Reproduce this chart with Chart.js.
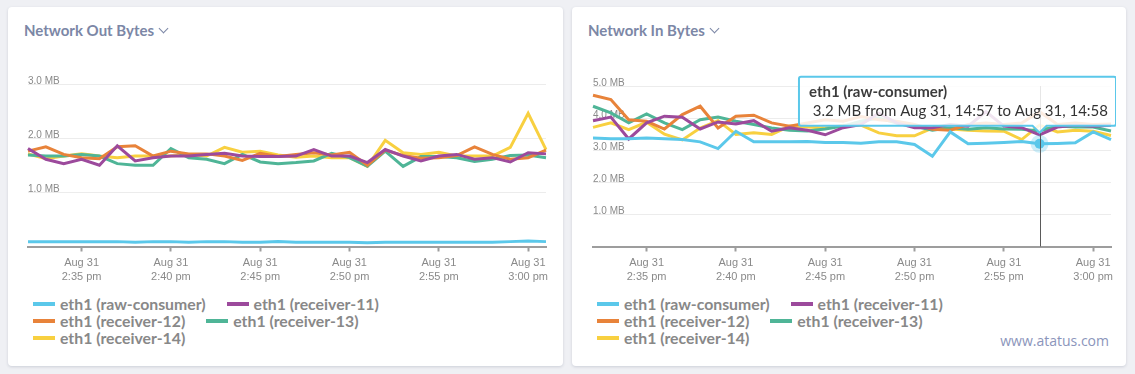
<!DOCTYPE html>
<html>
<head>
<meta charset="utf-8">
<script src="https://cdn.jsdelivr.net/npm/chart.js@4.4.1/dist/chart.umd.min.js"></script>
<style>
  html, body { margin: 0; padding: 0; }
  body { width: 1135px; height: 374px; background: #eff0f4; position: relative; overflow: hidden; font-family: Lato, sans-serif; }
  .card { position: absolute; top: 7px; height: 359px; background: #fff; border-radius: 4px; box-shadow: 0 1px 3px rgba(50, 60, 90, 0.18); }
  #cardOut { left: 8px; width: 555px; }
  #cardIn { left: 572px; width: 554px; }
  .card h3 { position: absolute; left: 16px; top: 14px; margin: 0; font: 700 15px/18px Lato, sans-serif; color: #7c87a6; white-space: nowrap; }
  .chev { display: inline-block; width: 6px; height: 6px; border-right: 1.5px solid #7c87a6; border-bottom: 1.5px solid #7c87a6; transform: rotate(45deg); margin-left: 6px; position: relative; top: -4px; }
  .plot { position: absolute; top: 49px; }
  #cardOut .plot { left: 15px; }
  #cardIn .plot { left: 16px; }
  .legend { position: absolute; left: 25px; top: 288px; width: 410px; display: flex; flex-wrap: wrap; }
  .item { display: flex; align-items: center; margin-right: 21px; height: 17px; font: 700 15.8px Lato, sans-serif; color: #888; white-space: nowrap; }
  .swatch { width: 22px; height: 4px; margin-right: 5px; }
  .brand { position: absolute; right: 17px; top: 325px; font: 400 14px/17px 'Open Sans', sans-serif; color: #8b95bb; }
</style>
</head>
<body>
<div class="card" id="cardOut">
  <h3>Network Out Bytes<span class="chev"></span></h3>
  <div class="plot"><canvas id="outChart" width="528" height="234"></canvas></div>
  <div class="legend" id="outLegend"></div>
</div>
<div class="card" id="cardIn">
  <h3>Network In Bytes<span class="chev"></span></h3>
  <div class="plot"><canvas id="inChart" width="528" height="234"></canvas></div>
  <div class="legend" id="inLegend"></div>
  <div class="brand">www.atatus.com</div>
</div>
<script>
const day = 'Aug 31';
const timeLabels = ['14:32', '14:33', '14:34', '14:35', '14:36', '14:37', '14:38', '14:39', '14:40', '14:41',
  '14:42', '14:43', '14:44', '14:45', '14:46', '14:47', '14:48', '14:49', '14:50', '14:51',
  '14:52', '14:53', '14:54', '14:55', '14:56', '14:57', '14:58', '14:59', '15:00', '15:01'];
const seriesNames = ['eth1 (raw-consumer)', 'eth1 (receiver-11)', 'eth1 (receiver-12)', 'eth1 (receiver-13)', 'eth1 (receiver-14)'];

// Network Out Bytes, MB per minute
const outRawConsumer = [0.09, 0.09, 0.09, 0.09, 0.09, 0.09, 0.08, 0.09, 0.09, 0.08, 0.09, 0.09, 0.08, 0.08, 0.09,
  0.08, 0.08, 0.08, 0.08, 0.07, 0.08, 0.08, 0.08, 0.08, 0.08, 0.08, 0.08, 0.09, 0.10, 0.09];
const outReceiver11 = [1.81, 1.61, 1.53, 1.61, 1.50, 1.86, 1.58, 1.64, 1.67, 1.67, 1.70, 1.72, 1.67, 1.66, 1.66,
  1.67, 1.79, 1.67, 1.67, 1.55, 1.79, 1.67, 1.58, 1.67, 1.70, 1.61, 1.64, 1.56, 1.73, 1.71];
const outReceiver12 = [1.76, 1.84, 1.70, 1.64, 1.62, 1.84, 1.86, 1.67, 1.76, 1.71, 1.71, 1.67, 1.59, 1.72, 1.66,
  1.70, 1.73, 1.69, 1.74, 1.50, 1.78, 1.68, 1.63, 1.64, 1.68, 1.84, 1.70, 1.61, 1.64, 1.78];
const outReceiver13 = [1.69, 1.67, 1.67, 1.70, 1.67, 1.53, 1.50, 1.50, 1.81, 1.64, 1.61, 1.53, 1.70, 1.56, 1.53,
  1.55, 1.58, 1.72, 1.64, 1.48, 1.76, 1.48, 1.66, 1.66, 1.64, 1.57, 1.61, 1.68, 1.69, 1.64];
const outReceiver14 = [1.71, 1.62, 1.67, 1.71, 1.67, 1.64, 1.67, 1.67, 1.67, 1.70, 1.67, 1.83, 1.74, 1.76, 1.69,
  1.65, 1.67, 1.64, 1.64, 1.48, 1.96, 1.73, 1.70, 1.74, 1.67, 1.67, 1.67, 1.83, 2.46, 1.79];

// Network In Bytes, MB per minute
const inRawConsumer = [3.38, 3.36, 3.36, 3.38, 3.36, 3.33, 3.26, 3.05, 3.59, 3.26, 3.26, 3.26, 3.27, 3.24, 3.24,
  3.22, 3.26, 3.26, 3.18, 2.81, 3.57, 3.20, 3.22, 3.24, 3.27, 3.20, 3.21, 3.23, 3.57, 3.33];
const inReceiver11 = [3.92, 4.03, 3.35, 3.85, 4.06, 4.03, 3.66, 3.88, 3.82, 3.92, 3.59, 3.70, 3.62, 3.48, 3.70,
  3.80, 4.15, 3.85, 3.70, 3.70, 3.80, 3.75, 4.20, 3.75, 3.70, 3.48, 3.72, 3.78, 3.75, 3.78];
const inReceiver12 = [4.71, 4.58, 3.95, 3.90, 3.66, 4.11, 4.37, 3.69, 4.06, 4.09, 3.85, 3.75, 3.85, 3.95, 3.90,
  4.05, 3.95, 3.90, 3.80, 3.65, 3.62, 3.80, 3.85, 3.80, 3.85, 4.20, 3.80, 3.85, 3.80, 3.82];
const inReceiver13 = [4.37, 4.16, 3.85, 4.13, 3.85, 3.64, 3.95, 4.03, 3.90, 3.80, 3.69, 3.62, 3.60, 3.66, 3.75,
  3.90, 4.00, 3.85, 3.75, 3.62, 3.70, 3.65, 3.70, 3.66, 3.65, 3.60, 3.75, 3.72, 3.72, 3.60];
const inReceiver14 = [3.71, 3.85, 3.64, 3.87, 3.50, 3.32, 3.69, 3.92, 3.49, 3.54, 3.49, 3.75, 3.72, 3.69, 3.78,
  3.78, 3.54, 3.45, 3.45, 3.69, 3.66, 3.62, 3.60, 3.59, 3.33, 3.78, 3.57, 3.62, 3.59, 3.46];

const hoverTime = '14:57';

const lineColors = ['#5bc8ea', '#9c4a9c', '#e8833a', '#4fb597', '#f8d040'];
const haloColors = ['rgba(91,200,234,0.3)', 'rgba(156,74,156,0.3)', 'rgba(232,131,58,0.3)', 'rgba(79,181,151,0.3)', 'rgba(248,208,64,0.3)'];
const axisGray = '#9d9d9d';
const tickFont = "'Helvetica Neue', Helvetica, 'Liberation Sans', Arial, sans-serif";

function isLabelled(i) {
    return Number(timeLabels[i].split(':')[1]) % 5 === 0;
}

function xTickLabel(i) {
    const [h, m] = timeLabels[i].split(':').map(Number);
    const h12 = h % 12 || 12;
    return [day, h12 + ':' + String(m).padStart(2, '0') + ' ' + (h >= 12 ? 'pm' : 'am')];
}

const hoverLine = {
    id: 'hoverLine',
    afterDatasetsDraw(chart) {
        const active = chart.getActiveElements();
        if (!active.length) {
            return;
        }
        const ctx = chart.ctx;
        const x = Math.round(active[0].element.x) + 0.5;
        ctx.save();
        ctx.strokeStyle = '#5a5a5a';
        ctx.lineWidth = 1;
        ctx.beginPath();
        ctx.moveTo(x, chart.chartArea.top);
        ctx.lineTo(x, chart.chartArea.bottom);
        ctx.stroke();
        ctx.restore();
    },
};

function buildLegend(id) {
    const box = document.getElementById(id);
    seriesNames.forEach((name, i) => {
        const item = document.createElement('div');
        item.className = 'item';
        const sw = document.createElement('span');
        sw.className = 'swatch';
        sw.style.background = lineColors[i];
        item.appendChild(sw);
        item.appendChild(document.createTextNode(name));
        box.appendChild(item);
    });
}

function makeChart(canvasId, series, yMax, padTop) {
    return new Chart(document.getElementById(canvasId), {
        type: 'line',
        data: {
            labels: timeLabels,
            datasets: series.map((values, i) => ({
                label: seriesNames[i],
                data: values,
                borderColor: lineColors[i],
                backgroundColor: lineColors[i],
                borderWidth: 3,
                pointRadius: 0,
                pointHoverRadius: 5,
                pointHoverBorderWidth: 8,
                pointHoverBackgroundColor: lineColors[i],
                pointHoverBorderColor: haloColors[i],
                tension: 0,
                fill: false,
            })),
        },
        options: {
            responsive: false,
            animation: false,
            events: [],
            layout: { padding: { top: padTop, bottom: 1, left: 0, right: 0 } },
            scales: {
                x: {
                    grid: {
                        drawOnChartArea: false,
                        tickLength: 5,
                        tickWidth: 2,
                        color: 'rgba(0,0,0,0)',
                        tickColor: (c) => (isLabelled(c.index) ? axisGray : 'rgba(0,0,0,0)'),
                    },
                    border: { color: axisGray, width: 2 },
                    ticks: {
                        autoSkip: false,
                        maxRotation: 0,
                        padding: 5,
                        color: '#8a8a8a',
                        font: { family: tickFont, size: 11, lineHeight: 1.25 },
                        callback: (v, i) => (isLabelled(i) ? xTickLabel(i) : ''),
                    },
                },
                y: {
                    min: 0,
                    max: yMax,
                    border: { display: false },
                    grid: {
                        drawTicks: false,
                        color: (c) => (c.tick && c.tick.value === 0 ? 'rgba(0,0,0,0)' : '#ececec'),
                    },
                    ticks: {
                        stepSize: 1,
                        mirror: true,
                        padding: 0,
                        labelOffset: -3,
                        color: '#8a8a8a',
                        font: { family: tickFont, size: 10 },
                        callback: (v) => (v === 0 ? '' : v.toFixed(1) + ' MB'),
                    },
                },
            },
            plugins: {
                legend: { display: false },
                tooltip: {
                    xAlign: 'center',
                    yAlign: 'bottom',
                    backgroundColor: 'rgba(255,255,255,0.85)',
                    borderColor: lineColors[0],
                    borderWidth: 2,
                    cornerRadius: 2,
                    caretSize: 7,
                    caretPadding: 11,
                    padding: { top: 6, bottom: 6, left: 10, right: 8 },
                    titleColor: '#3c3c3c',
                    titleFont: { family: 'Lato', size: 15, weight: 'bold' },
                    titleMarginBottom: 1,
                    bodyColor: '#333',
                    bodyFont: { family: 'Lato', size: 15 },
                    displayColors: false,
                    callbacks: {
                        title: (items) => items[0].dataset.label,
                        label: (item) => ' ' + item.parsed.y.toFixed(1) + ' MB from ' + day + ', ' +
                            timeLabels[item.dataIndex] + ' to ' + day + ', ' + timeLabels[item.dataIndex + 1],
                    },
                },
            },
        },
        plugins: [hoverLine],
    });
}

makeChart('outChart', [outRawConsumer, outReceiver11, outReceiver12, outReceiver13, outReceiver14], 3, 28);
const inChart = makeChart('inChart', [inRawConsumer, inReceiver11, inReceiver12, inReceiver13, inReceiver14], 5, 30);

const hoverIndex = timeLabels.indexOf(hoverTime);
inChart.setActiveElements([{ datasetIndex: 0, index: hoverIndex }]);
inChart.tooltip.setActiveElements([{ datasetIndex: 0, index: hoverIndex }], { x: 0, y: 0 });
inChart.update();

buildLegend('outLegend');
buildLegend('inLegend');
</script>
</body>
</html>
